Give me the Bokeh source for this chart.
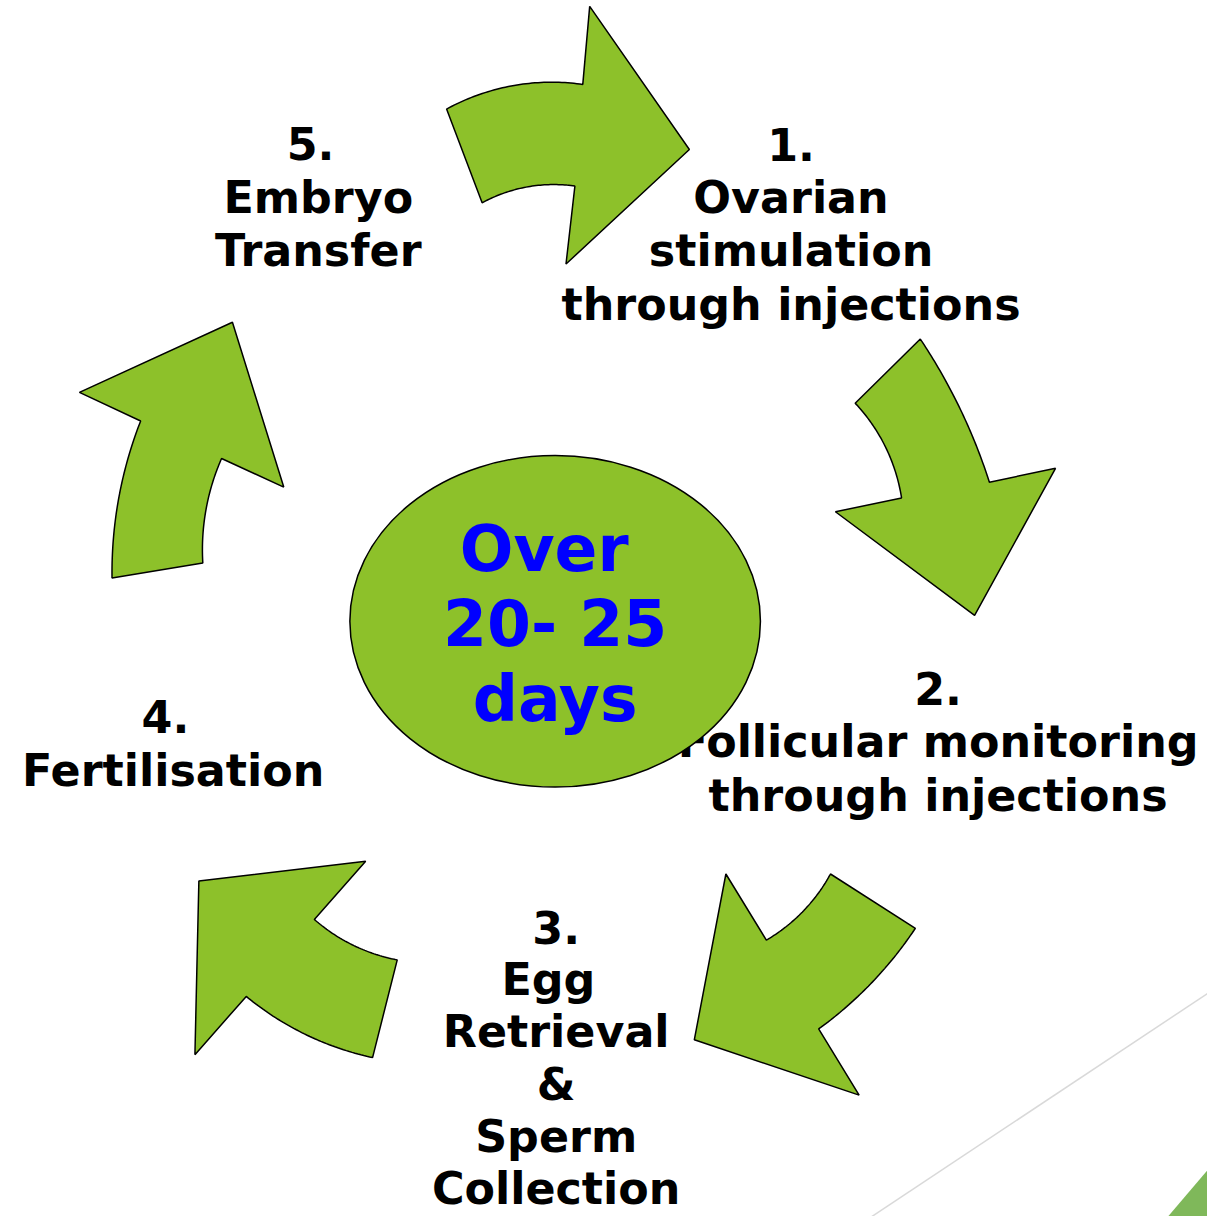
import math
import numpy as np
from bokeh.plotting import figure
from bokeh.models import Range1d, ColumnDataSource
from bokeh.core.properties import value
from bokeh.embed import file_html
from bokeh.resources import INLINE

# ---------------- content ----------------
step_lines = [
    ["1.", "Ovarian", "stimulation", "through injections"],
    ["2.", "Follicular monitoring", "through injections"],
    ["3.", "Egg ", "Retrieval", "&", "Sperm", "Collection"],
    ["4. ", "Fertilisation"],
    ["5. ", "Embryo", "Transfer"],
]
center_lines = ["Over ", "20- 25", "days"]

# ---------------- layout (reference-image pixels) ----------------
label_anchor_x = [801, 950, 563, 175, 322]
label_first_mid = [145.5, 697, 939, 726.5, 145.5]
label_line_step = [54, 54, 53, 54, 54]
center_x = 562
center_first_mid = 555.5
center_line_step = 76
ellipse_geom = dict(x=562, y=629, w=416, h=336)

# each arrow: outer arc (tail, mid, head base), head (side, tip, side), inner arc (head base, mid, tail)
arrow_outer = [
    [(452, 110), (521, 86), (590, 85)],
    [(932, 343), (972, 413), (1002, 488)],
    [(927, 940), (880, 998), (829, 1042)],
    [(377, 1071), (310, 1048), (249, 1009)],
    [(113, 585), (122, 493), (142, 426)],
]
arrow_head = [
    [(597, 6), (698, 151), (573, 267)],
    [(1069, 474), (987, 623), (846, 518)],
    [(870, 1109), (703, 1053), (735, 885)],
    [(197, 1068), (201, 892), (370, 872)],
    [(80, 397), (235, 326), (287, 493)],
]
arrow_inner = [
    [(582, 188), (533, 189), (488, 205)],
    [(913, 504), (898, 455), (866, 408)],
    [(776, 952), (813, 923), (841, 885)],
    [(318, 931), (357, 957), (402, 972)],
    [(224, 464), (208, 517), (205, 570)],
]

GREEN = "#8DC12A"
DECOR_GREEN = "#7FB85A"

REF_W, REF_H = 1223, 1232
W, H = 1207, 1216
SCALE = W / REF_W


def arc3(a, m, b, n=48):
    ax, ay = a
    mx, my = m
    bx, by = b
    d = 2 * (ax * (my - by) + mx * (by - ay) + bx * (ay - my))
    if abs(d) < 1e-9:
        t = np.linspace(0, 1, n)
        return list(ax + (bx - ax) * t), list(ay + (by - ay) * t)
    ux = ((ax**2 + ay**2) * (my - by) + (mx**2 + my**2) * (by - ay) + (bx**2 + by**2) * (ay - my)) / d
    uy = ((ax**2 + ay**2) * (bx - mx) + (mx**2 + my**2) * (ax - bx) + (bx**2 + by**2) * (mx - ax)) / d
    r = math.hypot(ax - ux, ay - uy)
    ta = math.atan2(ay - uy, ax - ux)
    tm = math.atan2(my - uy, mx - ux)
    tb = math.atan2(by - uy, bx - ux)
    two = 2 * math.pi
    sweep = (tb - ta) % two
    dm = (tm - ta) % two
    if dm > sweep:
        sweep = sweep - two
    ts = ta + sweep * np.linspace(0, 1, n)
    return list(ux + r * np.cos(ts)), list(uy + r * np.sin(ts))


xs, ys = [], []
for outer, head, inner in zip(arrow_outer, arrow_head, arrow_inner):
    ox, oy = arc3(*outer)
    ix, iy = arc3(*inner)
    hx = [pt[0] for pt in head]
    hy = [pt[1] for pt in head]
    xs.append(ox + hx + ix)
    ys.append(oy + hy + iy)

p = figure(width=W, height=H, output_backend="svg", toolbar_location=None,
           x_range=Range1d(0, REF_W), y_range=Range1d(REF_H, 0),
           min_border=0)
p.axis.visible = False
p.grid.visible = False
p.outline_line_color = None
p.background_fill_color = "white"
p.border_fill_color = "white"

# decorative slide elements (bottom right)
p.line(x=[870, 1240], y=[1240.6, 994.8], line_color="#D9D9D9", line_width=1.5)
p.patch(x=[1240, 1166, 1240], y=[1165, 1252, 1252], fill_color=DECOR_GREEN, line_color=None)

# arrows
p.patches(xs=xs, ys=ys, fill_color=GREEN, line_color="black", line_width=1.5)

# step labels
tx, ty, tt = [], [], []
for lines, x0, y0, step in zip(step_lines, label_anchor_x, label_first_mid, label_line_step):
    for i, s in enumerate(lines):
        tx.append(x0)
        ty.append(y0 + i * step)
        tt.append(s)
p.text(x="x", y="y", text="t", source=ColumnDataSource(dict(x=tx, y=ty, t=tt)),
       text_align="center", text_baseline="middle",
       text_font=value("DejaVu Sans"), text_font_style="bold",
       text_font_size=f"{45 * SCALE:.1f}px", text_color="black")

# central ellipse
p.ellipse(x=[ellipse_geom["x"]], y=[ellipse_geom["y"]], width=[ellipse_geom["w"]],
          height=[ellipse_geom["h"]], fill_color=GREEN, line_color="black", line_width=1.5)

cx = [center_x] * len(center_lines)
cy = [center_first_mid + i * center_line_step for i in range(len(center_lines))]
p.text(x="x", y="y", text="t", source=ColumnDataSource(dict(x=cx, y=cy, t=center_lines)),
       text_align="center", text_baseline="middle",
       text_font=value("DejaVu Sans"), text_font_style="bold",
       text_font_size=f"{64 * SCALE:.1f}px", text_color="#0000FF")

open("out.html", "w").write(file_html(p, INLINE))
